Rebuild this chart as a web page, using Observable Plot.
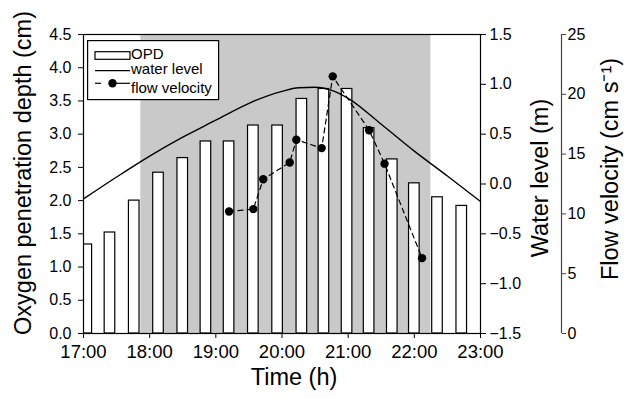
<!DOCTYPE html>
<html><head><meta charset="utf-8">
<script src="https://cdn.jsdelivr.net/npm/d3@7"></script>
<script src="https://cdn.jsdelivr.net/npm/@observablehq/plot@0.6"></script>
<style>
body{margin:0;background:#fff;}
#chart{position:relative;width:624px;height:398px;font-family:"Liberation Sans",Arial,Helvetica,sans-serif;}
#chart svg{display:block;}
#legend{position:absolute;left:87px;top:40px;}
</style></head><body><div id="chart"></div>
<script>
// ---- data ----
const opdTimes  = ["17:03","17:24","17:46","18:08","18:30","18:51","19:12","19:34","19:56","20:18","20:38","20:59","21:19","21:40","22:00","22:21","22:43"];
const opdValues = [1.34,1.52,2.00,2.42,2.64,2.89,2.89,3.13,3.13,3.53,3.68,3.68,3.09,2.62,2.26,2.05,1.92];

const wlTimes  = ["17:00","17:30","18:00","18:30","19:00","19:30","20:00","20:15","20:30","20:45","21:00","21:30","22:00","22:30","23:00"];
const wlValues = [-0.15,0.07,0.28,0.47,0.64,0.81,0.93,0.965,0.97,0.94,0.86,0.60,0.33,0.08,-0.175];

const flowTimes  = ["19:12","19:34","19:43","20:07","20:13","20:36","20:46","21:19","21:33","22:07"];
const flowValues = [10.2,10.4,12.9,14.3,16.2,15.5,21.5,17.0,14.2,6.3];

const shadeStart = "17:52", shadeEnd = "22:15";

const xTicks    = ["17:00","18:00","19:00","20:00","21:00","22:00","23:00"];
const opdTicks  = [0,0.5,1,1.5,2,2.5,3,3.5,4,4.5];
const wlTicks   = [-1.5,-1,-0.5,0,0.5,1,1.5];
const flowTicks = [0,5,10,15,20,25];

const legendLabels = ["OPD","water level","flow velocity"];
const titleLeft  = "Oxygen penetration depth (cm)";
const titleWL    = "Water level (m)";
const titleFlow  = "Flow velocity (cm s\u207B\u00B9)";
const titleX     = "Time (h)";

// ---- helpers ----
const hrs = s => { const [h,m] = s.split(":").map(Number); return h + m/60; };
const OPD_MAX = opdTicks[opdTicks.length-1];
const WL_MIN = wlTicks[0], WL_MAX = wlTicks[wlTicks.length-1];
const FL_MAX = flowTicks[flowTicks.length-1];
const wlToY = w => (w - WL_MIN) * OPD_MAX / (WL_MAX - WL_MIN);
const yToWl = y => y * (WL_MAX - WL_MIN) / OPD_MAX + WL_MIN;
const flToY = v => v * OPD_MAX / FL_MAX;
const yToFl = y => y * FL_MAX / OPD_MAX;
const halfBar = 0.08; // hours

const bars = opdTimes.map((t,i) => ({t: hrs(t), v: opdValues[i]}));
const wl = wlTimes.map((t,i) => ({t: hrs(t), y: wlToY(wlValues[i])}));
const flow = flowTimes.map((t,i) => ({t: hrs(t), y: flToY(flowValues[i])}));
const xMin = hrs(xTicks[0]), xMax = hrs(xTicks[xTicks.length-1]);

const f1 = d3.format(".1f");
const TITLE_FS = 23.5;

const plot = Plot.plot({
  width: 624, height: 398,
  marginLeft: 83, marginRight: 144, marginTop: 34, marginBottom: 65,
  style: {fontFamily: '"Liberation Sans", Arial, Helvetica, sans-serif', fontSize: "16px", color: "#000", background: "#fff"},
  x: {domain: [xMin, xMax]},
  y: {domain: [0, OPD_MAX]},
  marks: [
    Plot.rect([{a: hrs(shadeStart), b: hrs(shadeEnd)}], {x1: "a", x2: "b", y1: 0, y2: OPD_MAX, fill: "#c9c9c9"}),
    Plot.rectY(bars, {x1: d => d.t - halfBar, x2: d => d.t + halfBar, y: "v", fill: "#fff", stroke: "#000", strokeWidth: 1.2, clip: true}),
    Plot.line(wl, {x: "t", y: "y", stroke: "#000", strokeWidth: 1.4, curve: "monotone-x"}),
    Plot.line(flow, {x: "t", y: "y", stroke: "#000", strokeWidth: 1.2, strokeDasharray: "5,4"}),
    Plot.dot(flow, {x: "t", y: "y", r: 4.2, fill: "#000", stroke: "none"}),
    Plot.frame({stroke: "#000", strokeWidth: 1.2}),
    Plot.axisX({ticks: xTicks.map(hrs), tickFormat: d => xTicks[xTicks.map(hrs).indexOf(d)], tickSize: 5, tickPadding: 6, fontSize: 18.5, label: null}),
    Plot.axisY({anchor: "left", ticks: opdTicks, tickFormat: d => f1(d), tickSize: 5, tickPadding: 7, fontSize: 16, label: null}),
    Plot.axisY({anchor: "right", ticks: wlTicks.map(wlToY), tickFormat: d => f1(Math.round(yToWl(d)*10)/10), tickSize: 5, tickPadding: 4, fontSize: 16, label: null}),
    Plot.axisY({anchor: "right", ticks: flowTicks.map(flToY), tickFormat: d => String(Math.round(yToFl(d))), tickSize: 4, tickPadding: 2, fontSize: 16, label: null, dx: 81, stroke: "#444"}),
    Plot.ruleX([xMax], {y1: 0, y2: OPD_MAX, dx: 81, stroke: "#444", strokeWidth: 1.2}),
    Plot.text([titleLeft], {frameAnchor: "left", textAnchor: "middle", rotate: -90, dx: -60, dy: -11, fontSize: TITLE_FS}),
    Plot.text([titleWL], {frameAnchor: "right", textAnchor: "middle", rotate: -90, dx: 60, dy: -6, fontSize: TITLE_FS}),
    Plot.text([titleFlow], {frameAnchor: "right", textAnchor: "middle", rotate: -90, dx: 130, dy: -15, fontSize: TITLE_FS}),
    Plot.text([titleX], {frameAnchor: "bottom", textAnchor: "middle", dx: 12, dy: 51, fontSize: TITLE_FS})
  ]
});
const chart = document.getElementById("chart");
chart.appendChild(plot);

// ---- legend (overlay inside the plot frame) ----
const lg = d3.select(chart).append("svg").attr("id","legend").attr("width",133).attr("height",61)
  .style("font-family",'"Liberation Sans", Arial, Helvetica, sans-serif').style("font-size","15px");
lg.append("rect").attr("x",0.6).attr("y",0.6).attr("width",131).attr("height",59).attr("fill","#fff").attr("stroke","#000").attr("stroke-width",1.2);
lg.append("rect").attr("x",8).attr("y",11.7).attr("width",35).attr("height",7.6).attr("fill","#fff").attr("stroke","#000").attr("stroke-width",1.2);
lg.append("line").attr("x1",8).attr("x2",43).attr("y1",30.7).attr("y2",30.7).attr("stroke","#000").attr("stroke-width",1.3);
lg.append("line").attr("x1",8).attr("x2",14).attr("y1",43.3).attr("y2",43.3).attr("stroke","#000").attr("stroke-width",1.2);
lg.append("line").attr("x1",22).attr("x2",43).attr("y1",43.3).attr("y2",43.3).attr("stroke","#000").attr("stroke-width",1.2);
lg.append("circle").attr("cx",25.5).attr("cy",43.3).attr("r",4.2).attr("fill","#000");
[19.3, 34.3, 53.3].forEach((y,i) => lg.append("text").attr("x",44).attr("y",y).text(legendLabels[i]));
</script>
</body></html>
